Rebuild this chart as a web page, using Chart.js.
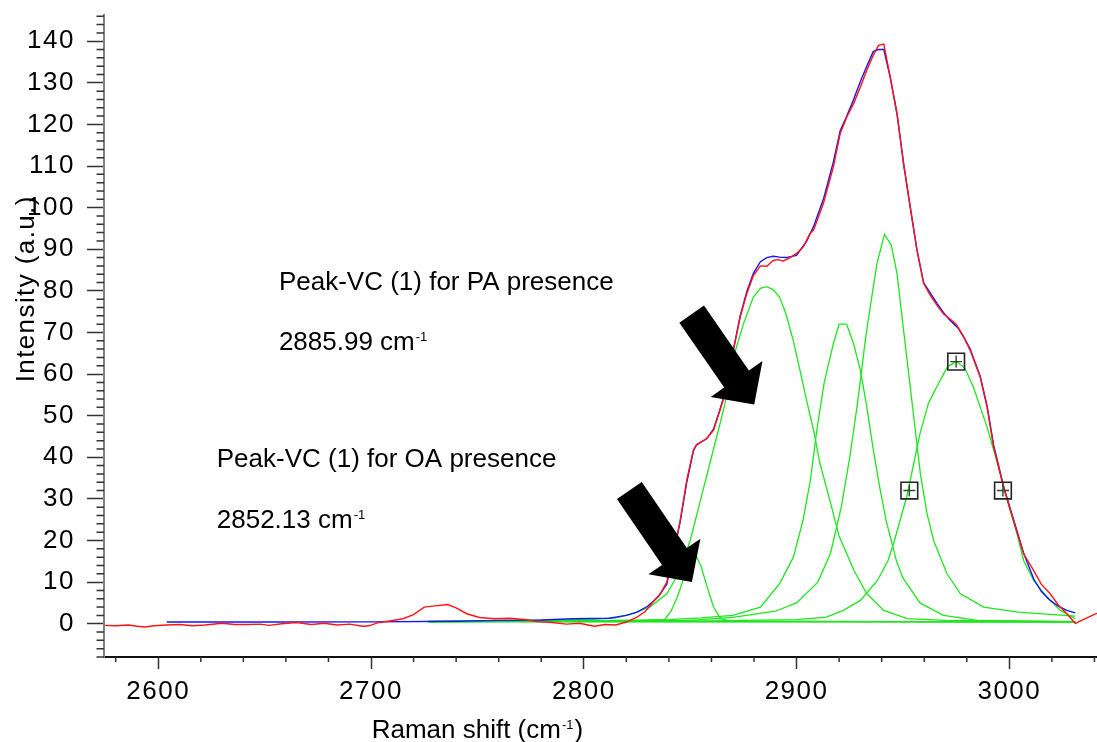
<!DOCTYPE html>
<html>
<head>
<meta charset="utf-8">
<script src="https://cdn.jsdelivr.net/npm/chart.js@4.4.1/dist/chart.umd.min.js"></script>
<style>
html, body { margin: 0; padding: 0; background: #fff; }
#wrap { width: 1097px; height: 742px; position: relative; }
</style>
</head>
<body>
<div id="wrap"><canvas id="c" width="1097" height="742"></canvas></div>
<script>
// ---- axis ticks ----
const xTickValues = [2600, 2700, 2800, 2900, 3000];
const yTickValues = [0, 10, 20, 30, 40, 50, 60, 70, 80, 90, 100, 110, 120, 130, 140];

// ---- measured Raman spectrum ----
const measuredShift = [2575, 2580, 2586, 2590, 2594, 2598, 2604, 2610, 2616, 2622, 2630, 2636, 2642, 2648, 2652, 2658, 2665, 2672, 2678, 2684, 2690, 2696, 2699, 2703, 2708, 2715, 2720, 2725, 2730, 2736, 2740, 2745, 2751, 2758, 2765, 2772, 2778, 2785, 2792, 2798, 2802, 2805, 2810, 2815, 2820, 2825, 2829, 2832.5, 2836, 2839, 2842, 2845.3, 2848.4, 2851.5, 2853, 2857.8, 2861, 2864, 2866.4, 2870.3, 2873.5, 2876.6, 2879.7, 2883, 2886, 2889, 2891, 2893.8, 2897, 2900, 2903.2, 2906.3, 2908, 2912.6, 2917.3, 2920.5, 2923.6, 2926.8, 2930, 2933, 2936, 2938.5, 2941, 2944, 2947.2, 2950.3, 2953.4, 2956.6, 2959.7, 2962.8, 2966, 2969, 2972, 2975, 2978, 2981.6, 2986.3, 2989.5, 2992.6, 2997.3, 3002, 3006.7, 3011.4, 3015, 3019.2, 3023, 3027, 3031, 3034, 3036.5, 3039, 3041.2];
const measuredIntensity = [-0.4, -0.5, -0.3, -0.6, -0.8, -0.5, -0.3, -0.2, -0.5, -0.3, 0.1, -0.2, -0.2, -0.1, -0.4, 0, 0.3, -0.2, 0.1, -0.3, -0.1, -0.6, -0.5, 0.2, 0.6, 1.2, 2.2, 4.0, 4.3, 4.6, 3.8, 2.4, 1.5, 1.2, 1.3, 1.0, 0.5, 0.3, -0.1, 0.1, -0.3, -0.6, -0.2, -0.3, 0.4, 1.6, 3.0, 5.2, 7.2, 10, 16.8, 24.8, 34.5, 41.7, 43, 44.5, 46.5, 51.3, 55.3, 65.7, 73.7, 79.3, 83.7, 86, 85.9, 87.3, 87.5, 87.2, 88, 89, 90.6, 93.8, 94.6, 101, 109.8, 117.8, 121.8, 125, 129, 133, 136.6, 139, 139.3, 131.4, 122.6, 110.6, 100.2, 89.8, 81.8, 79, 76.5, 74.5, 73.3, 72, 69.5, 65.7, 59.3, 52.1, 42.5, 32.8, 24.8, 16.8, 12.8, 9.5, 7.2, 4.5, 2.4, 0.1, 0.8, 1.4, 2.0, 2.5];

// ---- fitted envelope ----
const fitShift = [2604, 2650, 2700, 2740, 2760, 2780, 2795, 2812, 2820, 2825, 2830, 2835, 2839, 2842, 2845.3, 2848.4, 2851.5, 2853, 2857.8, 2861, 2864, 2866.4, 2870.3, 2873.5, 2876.6, 2879.7, 2883, 2886, 2889, 2892, 2895, 2900, 2904.8, 2908, 2912.6, 2917.3, 2920.5, 2923.6, 2926.8, 2930, 2933, 2936, 2938.5, 2941, 2944, 2947.2, 2950.3, 2953.4, 2956.6, 2959.7, 2962.8, 2966, 2969, 2972, 2976, 2979, 2981.6, 2986.3, 2989.5, 2992.6, 2997.3, 3002, 3006.7, 3011.4, 3015, 3019.2, 3023, 3027, 3031];
const fitIntensity = [0.4, 0.4, 0.45, 0.6, 0.8, 0.9, 1.2, 1.3, 2.0, 2.8, 4.2, 6.5, 9.5, 16.5, 24.5, 34, 41.5, 43, 44.5, 46.8, 51.5, 55.5, 65.9, 74, 79.8, 84.2, 87, 88, 88.3, 88.1, 88, 88.5, 92, 95.5, 102, 111, 118.5, 122, 126, 130.3, 134, 137.5, 138, 138, 131.4, 122.6, 110.6, 100.2, 89.8, 82, 79.5, 77, 74.8, 73, 71, 68.5, 66, 59.5, 52.5, 43, 33, 25, 17, 10.8, 7.8, 5.6, 4.2, 3.2, 2.6];

// ---- fitted components ----
const baseShift = [2727, 3031];
const baseIntensity = [0.5, 0.4];

const oaShift = [2727, 2800, 2830, 2838, 2841, 2844, 2848, 2852, 2855, 2858, 2861, 2864, 2868, 2880, 2950, 3031];
const oaIntensity = [0.5, 0.6, 0.8, 1.0, 3, 6.5, 12.5, 17, 14, 8.8, 4, 1.4, 0.7, 0.6, 0.5, 0.4];

const paShift = [2727, 2760, 2790, 2805, 2815, 2823, 2831, 2839, 2845, 2850, 2855, 2860, 2864, 2866.4, 2870.3, 2875, 2879.7, 2883, 2886, 2889, 2892, 2895, 2898.5, 2902, 2905, 2908, 2911, 2916, 2920, 2927, 2933, 2941, 2952, 2970, 3000, 3031];
const paIntensity = [0.6, 0.7, 0.9, 1.1, 1.4, 2.4, 4, 7.2, 12.5, 20, 30, 40, 48, 53, 64, 72, 78.5, 80.6, 81, 80.3, 78.5, 74.5, 68, 60, 53, 46.5, 38.5, 29, 21, 12.8, 7.2, 3.2, 1.2, 0.8, 0.6, 0.5];

const band3Shift = [2727, 2800, 2840, 2855, 2870, 2883, 2892, 2898.5, 2903, 2906.5, 2909.5, 2913, 2917.3, 2920, 2923.5, 2926.8, 2930, 2933, 2936, 2939, 2942, 2947, 2950, 2958, 2969, 2985, 3031];
const band3Intensity = [0.5, 0.7, 1.0, 1.4, 2, 4, 9.6, 16, 24.8, 34.5, 46.5, 58, 67.3, 72, 72, 67.3, 60.9, 52.1, 42, 33, 25, 15, 11, 5, 2, 0.8, 0.5];

const band4Shift = [2727, 2800, 2850, 2870, 2890, 2900, 2910, 2916, 2921, 2925, 2928.4, 2930, 2932.3, 2934.6, 2937.8, 2941.3, 2944.5, 2947.2, 2950.3, 2952.7, 2955, 2958.2, 2961.3, 2964.4, 2970.7, 2977, 2988, 3004, 3031];
const band4Intensity = [0.5, 0.6, 0.8, 1.5, 3, 5, 10, 17, 28, 40, 52.1, 58.5, 68.1, 76.1, 86.6, 93.6, 91, 84.2, 70.5, 60.1, 50, 36, 26.5, 20, 12, 7.2, 4, 2.8, 1.8];

const band5Shift = [2727, 2850, 2900, 2914, 2922, 2930, 2938, 2943, 2946, 2952, 2958, 2962, 2967.5, 2971, 2975, 2979, 2983, 2989.5, 2994, 2999, 3003.6, 3006.7, 3011.4, 3017.7, 3024, 3031];
const band5Intensity = [0.5, 0.6, 1.0, 1.6, 3.2, 5.6, 10.4, 15.2, 20, 31, 45.7, 53, 58.5, 61.8, 63, 61.5, 57, 47.3, 39.3, 29.6, 21.6, 15.2, 10.4, 6.4, 3.2, 1.2];

// ---- position / half-height handles of the 2975 band ----
const handleShift = [2975, 2953, 2997];
const handleIntensity = [63, 32, 32];

// ---- styling ----
const FONT_FAMILY = '"Liberation Sans", Arial, Helvetica, sans-serif';
const GREEN = 'rgb(30, 230, 30)';

const pts = (xs, ys) => xs.map((x, i) => ({ x: x, y: ys[i] }));

const lineDs = (label, xs, ys, color, width) => ({
  label: label,
  data: pts(xs, ys),
  borderColor: color,
  backgroundColor: color,
  borderWidth: width,
  pointRadius: 0,
  tension: 0,
  fill: false
});

// text notes placed in data coordinates
const notes = [
  { text: 'Peak-VC (1) for PA presence', x: 2656.7, y: 80.3 },
  { text: '2885.99 cm', sup: '-1', x: 2656.7, y: 65.7 },
  { text: 'Peak-VC (1) for OA presence', x: 2627.5, y: 37.6 },
  { text: '2852.13 cm', sup: '-1', x: 2627.5, y: 23.0 }
];

// block arrows, tail -> tip in data coordinates
const arrows = [
  { from: [2850.7, 74.4], to: [2880.1, 52.7] },
  { from: [2821.4, 32.0], to: [2850.8, 10.0] }
];

const annotationPlugin = {
  id: 'annotations',
  beforeDraw(chart) {
    // slightly widened tick label glyph spacing
    chart.ctx.letterSpacing = '1.5px';
  },
  beforeDatasetsDraw(chart) {
    chart.ctx.letterSpacing = '0px';
  },
  afterDraw(chart) {
    const ctx = chart.ctx;
    const xs = chart.scales.x, ys = chart.scales.y;
    const area = chart.chartArea;
    ctx.save();
    ctx.letterSpacing = '0px';

    // minor ticks
    ctx.strokeStyle = '#333';
    ctx.lineWidth = 1.5;
    ctx.beginPath();
    for (let v = 2580; v <= 3041; v += 20) {
      if (v % 100 === 0) continue;
      const px = xs.getPixelForValue(v);
      ctx.moveTo(px, area.bottom);
      ctx.lineTo(px, area.bottom + 5);
    }
    for (let v = -8; v <= 146; v += 2) {
      if (v % 10 === 0) continue;
      const py = ys.getPixelForValue(v);
      ctx.moveTo(area.left, py);
      ctx.lineTo(area.left - 7.5, py);
    }
    ctx.stroke();

    // arrows
    ctx.fillStyle = '#000';
    arrows.forEach(a => {
      const tx = xs.getPixelForValue(a.from[0]), ty = ys.getPixelForValue(a.from[1]);
      const hx = xs.getPixelForValue(a.to[0]), hy = ys.getPixelForValue(a.to[1]);
      const len = Math.hypot(hx - tx, hy - ty);
      const ux = (hx - tx) / len, uy = (hy - ty) / len;
      const nx = -uy, ny = ux;
      const shaft = 15, head = 31.5, headLen = 31;
      const bx = hx - ux * headLen, by = hy - uy * headLen;
      ctx.beginPath();
      ctx.moveTo(tx + nx * shaft, ty + ny * shaft);
      ctx.lineTo(bx + nx * shaft, by + ny * shaft);
      ctx.lineTo(bx + nx * head, by + ny * head);
      ctx.lineTo(hx, hy);
      ctx.lineTo(bx - nx * head, by - ny * head);
      ctx.lineTo(bx - nx * shaft, by - ny * shaft);
      ctx.lineTo(tx - nx * shaft, ty - ny * shaft);
      ctx.closePath();
      ctx.fill();
    });

    // notes
    ctx.fillStyle = '#000';
    ctx.textBaseline = 'alphabetic';
    ctx.textAlign = 'left';
    notes.forEach(n => {
      const px = xs.getPixelForValue(n.x), py = ys.getPixelForValue(n.y);
      ctx.font = '26px ' + FONT_FAMILY;
      ctx.fillText(n.text, px, py);
      if (n.sup) {
        const w = ctx.measureText(n.text).width;
        ctx.font = '13px ' + FONT_FAMILY;
        ctx.fillText(n.sup, px + w + 1, py - 9);
      }
    });

    // x axis title
    ctx.font = '26px ' + FONT_FAMILY;
    const t1 = 'Raman shift (cm', t2 = '-1', t3 = ')';
    const w1 = ctx.measureText(t1).width, w3 = ctx.measureText(t3).width;
    ctx.font = '13px ' + FONT_FAMILY;
    const w2 = ctx.measureText(t2).width;
    const total = w1 + w2 + 2 + w3;
    const cx = xs.getPixelForValue(2750);
    const base = chart.height - 4.5;
    let sx = cx - total / 2;
    ctx.font = '26px ' + FONT_FAMILY;
    ctx.fillText(t1, sx, base);
    ctx.font = '13px ' + FONT_FAMILY;
    ctx.fillText(t2, sx + w1 + 1, base - 9);
    ctx.font = '26px ' + FONT_FAMILY;
    ctx.fillText(t3, sx + w1 + w2 + 2, base);

    // y axis title
    ctx.save();
    ctx.translate(33.5, ys.getPixelForValue(80.5));
    ctx.rotate(-Math.PI / 2);
    ctx.font = '26px ' + FONT_FAMILY;
    ctx.letterSpacing = '1.4px';
    ctx.textAlign = 'center';
    ctx.fillText('Intensity (a.u.)', 0, 0);
    ctx.restore();

    ctx.restore();
  }
};

const zeroPadding = s => { s.paddingTop = 0; s.paddingBottom = 0; s.paddingLeft = 0; s.paddingRight = 0; };

new Chart(document.getElementById('c'), {
  type: 'line',
  data: {
    datasets: [
      {
        label: 'handles',
        data: pts(handleShift, handleIntensity),
        showLine: false,
        pointStyle: 'rect',
        pointRadius: 11.8,
        pointBackgroundColor: 'rgba(0,0,0,0)',
        pointBorderColor: '#222',
        pointBorderWidth: 1.6
      },
      {
        label: 'handle centres',
        data: pts(handleShift, handleIntensity),
        showLine: false,
        pointStyle: 'cross',
        pointRadius: 6,
        pointBorderColor: '#2a4a2a',
        pointBorderWidth: 1.4
      },
      lineDs('measured', measuredShift, measuredIntensity, 'rgb(255, 20, 20)', 1.4),
      lineDs('fit', fitShift, fitIntensity, 'rgb(20, 20, 255)', 1.4),
      lineDs('OA band', oaShift, oaIntensity, GREEN, 1.3),
      lineDs('PA band', paShift, paIntensity, GREEN, 1.3),
      lineDs('band 3', band3Shift, band3Intensity, GREEN, 1.3),
      lineDs('band 4', band4Shift, band4Intensity, GREEN, 1.3),
      lineDs('band 5', band5Shift, band5Intensity, GREEN, 1.3),
      lineDs('baseline', baseShift, baseIntensity, GREEN, 1.6)
    ]
  },
  options: {
    responsive: false,
    animation: false,
    events: [],
    layout: { autoPadding: false, padding: { top: 15, right: 0, bottom: 0, left: 0 } },
    plugins: {
      legend: { display: false },
      tooltip: { enabled: false },
      title: { display: false }
    },
    scales: {
      x: {
        type: 'linear',
        min: 2574.5,
        max: 3041.2,
        afterBuildTicks: s => { s.ticks = xTickValues.map(v => ({ value: v })); },
        afterFit: s => { s.height = 85; zeroPadding(s); },
        ticks: {
          autoSkip: false,
          maxRotation: 0,
          minRotation: 0,
          padding: 7,
          color: '#000',
          font: { family: FONT_FAMILY, size: 26 },
          callback: v => String(v)
        },
        grid: {
          drawOnChartArea: false,
          drawTicks: true,
          tickLength: 12,
          tickColor: '#333',
          tickWidth: 1.5
        },
        border: { display: true, color: '#111', width: 2 }
      },
      y: {
        type: 'linear',
        min: -8,
        max: 146.3,
        afterBuildTicks: s => { s.ticks = yTickValues.map(v => ({ value: v })); },
        afterFit: s => { s.width = 104; zeroPadding(s); },
        ticks: {
          padding: 12,
          color: '#000',
          font: { family: FONT_FAMILY, size: 26 },
          callback: v => String(v)
        },
        grid: {
          drawOnChartArea: false,
          drawTicks: true,
          tickLength: 17,
          tickColor: '#333',
          tickWidth: 1.5
        },
        border: { display: true, color: '#808080', width: 2 }
      }
    }
  },
  plugins: [annotationPlugin]
});
</script>
</body>
</html>
